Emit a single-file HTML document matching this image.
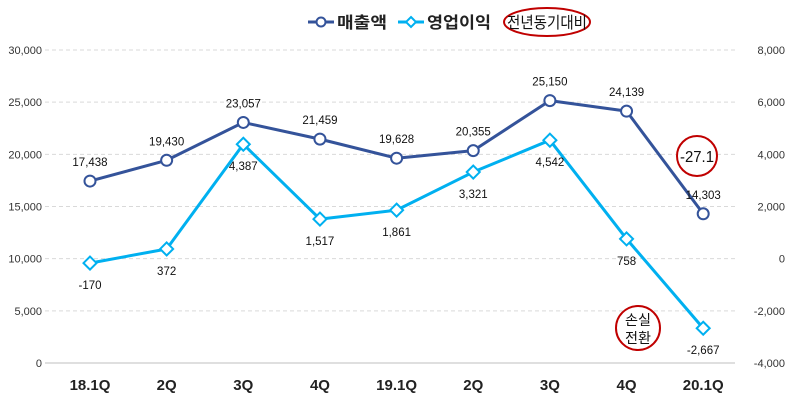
<!DOCTYPE html>
<html><head><meta charset="utf-8"><style>
body{margin:0;background:#fff;}
svg{font-family:"Liberation Sans","Noto Sans CJK KR",sans-serif;}
</style></head><body>
<svg id="c" width="790" height="406"></svg>
<script>
const categories=["18.1Q","2Q","3Q","4Q","19.1Q","2Q","3Q","4Q","20.1Q"];
const revenue=[17438,19430,23057,21459,19628,20355,25150,24139,14303];
const profit=[-170,372,4387,1517,1861,3321,4542,758,-2667];
const leftTicks=[0,5000,10000,15000,20000,25000,30000];
const rightTicks=[-4000,-2000,0,2000,4000,6000,8000];
const NS="http://www.w3.org/2000/svg";
const svg=document.getElementById('c');
function el(t,a,p){const e=document.createElementNS(NS,t);for(const k in a)e.setAttribute(k,a[k]);(p||svg).appendChild(e);return e;}
const plotTop=50,plotBot=363;
const yL=v=>plotBot-(v/30000)*(plotBot-plotTop);
const yR=v=>plotBot-((v+4000)/12000)*(plotBot-plotTop);
const xS=i=>90+i*76.65;
const fmt=v=>v.toLocaleString('en-US');
leftTicks.forEach(v=>{
  if(v>0){const g=el('line',{x1:45,x2:735,y1:yL(v),y2:yL(v),stroke:'#d9d9d9','stroke-dasharray':'4,3'});
  }
  const t=el('text',{x:42,y:yL(v)+4,'text-anchor':'end','font-size':11,fill:'#333'});t.textContent=fmt(v);
  
});
const base=el('line',{x1:45,x2:735,y1:plotBot,y2:plotBot,stroke:'#bfbfbf'});

rightTicks.forEach(v=>{
  const t=el('text',{x:785,y:yR(v)+4,'text-anchor':'end','font-size':11,fill:'#333'});t.textContent=fmt(v);
  
});
categories.forEach((c,i)=>{
  const t=el('text',{x:xS(i),y:390,'text-anchor':'middle','font-size':15,'font-weight':'bold',fill:'#222'});t.textContent=c;
  
});
function series(vals,sc,col,shape,name,dy){
  const p=el('polyline',{points:vals.map((v,i)=>xS(i)+','+sc(v)).join(' '),fill:'none',stroke:col,'stroke-width':3,'stroke-linejoin':'round'});
  
  vals.forEach((v,i)=>{
    const x=xS(i),y=sc(v);let m;
    if(shape==='circle')m=el('circle',{cx:x,cy:y,r:5.5,fill:'#fff',stroke:col,'stroke-width':2});
    else m=el('polygon',{points:`${x},${y-6.5} ${x+6.5},${y} ${x},${y+6.5} ${x-6.5},${y}`,fill:'#fff',stroke:col,'stroke-width':2});
    
    const t=el('text',{x:x,y:y+dy,'text-anchor':'middle','font-size':11.5,fill:'#111'});t.textContent=fmt(v);
    
  });
}
series(revenue,yL,'#34539a','circle','revenue',-15);
series(profit,yR,'#00b0f0','diamond','profit',26);
const lg=el('g',{});
el('line',{x1:308,x2:334,y1:22,y2:22,stroke:'#34539a','stroke-width':3},lg);
el('circle',{cx:321,cy:22,r:4.5,fill:'#fff',stroke:'#34539a','stroke-width':2},lg);
let t=el('text',{x:337,y:28,'font-size':16,'font-weight':'bold',fill:'#222',textLength:50,lengthAdjust:'spacingAndGlyphs'},lg);t.textContent='매출액';
el('line',{x1:398,x2:424,y1:22,y2:22,stroke:'#00b0f0','stroke-width':3},lg);
el('polygon',{points:'411,17 416,22 411,27 406,22',fill:'#fff',stroke:'#00b0f0','stroke-width':2},lg);
t=el('text',{x:427,y:28,'font-size':16,'font-weight':'bold',fill:'#222',textLength:64,lengthAdjust:'spacingAndGlyphs'},lg);t.textContent='영업이익';
el('ellipse',{cx:547,cy:22,rx:43,ry:14,fill:'none',stroke:'#c00000','stroke-width':2},lg);
t=el('text',{x:507,y:28,'font-size':16,fill:'#111',textLength:80,lengthAdjust:'spacingAndGlyphs'},lg);t.textContent='전년동기대비';
const a1=el('g',{});
el('circle',{cx:697,cy:156,r:20,fill:'#fff',stroke:'#c00000','stroke-width':2},a1);
t=el('text',{x:680,y:162,'font-size':16,fill:'#111',textLength:34,lengthAdjust:'spacingAndGlyphs'},a1);t.textContent='-27.1';
const a2=el('g',{});
el('circle',{cx:638,cy:328,r:22,fill:'#fff',stroke:'#c00000','stroke-width':2},a2);
t=el('text',{x:625,y:325,'font-size':14,fill:'#111',textLength:26,lengthAdjust:'spacingAndGlyphs'},a2);t.textContent='손실';
t=el('text',{x:625,y:343,'font-size':14,fill:'#111',textLength:26,lengthAdjust:'spacingAndGlyphs'},a2);t.textContent='전환';
</script>
</body></html>
